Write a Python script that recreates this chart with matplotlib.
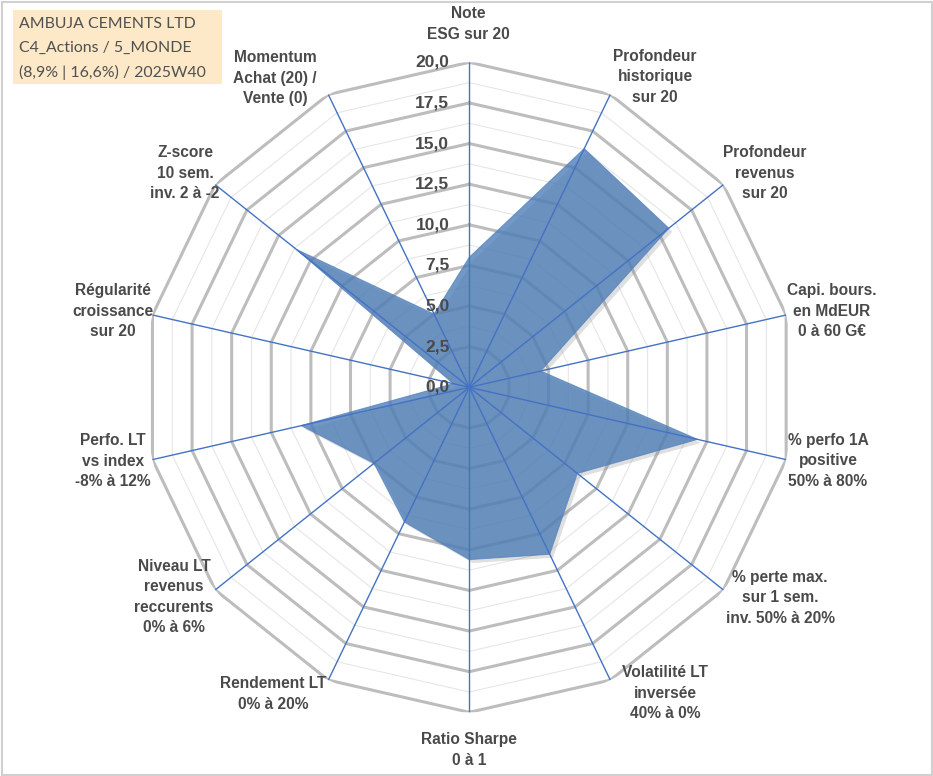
import numpy as np
import matplotlib
matplotlib.use("Agg")
import matplotlib.pyplot as plt
from matplotlib.patches import Rectangle
import matplotlib.transforms as mtransforms
import matplotlib.patheffects as pe

# ---------------- data ----------------
categories = [
    "Note\nESG sur 20",
    "Profondeur\nhistorique\nsur 20",
    "Profondeur\nrevenus\nsur 20",
    "Capi. bours.\nen MdEUR\n0 à 60 G€",
    "% perfo 1A\npositive\n50% à 80%",
    "% perte max.\nsur 1 sem.\ninv. 50% à 20%",
    "Volatilité LT\ninversée\n40% à 0%",
    "Ratio Sharpe\n0 à 1",
    "Rendement LT\n0% à 20%",
    "Niveau LT\nrevenus\nreccurents\n0% à 6%",
    "Perfo. LT\nvs index\n-8% à 12%",
    "Régularité\ncroissance\nsur 20",
    "Z-score\n10 sem.\ninv. 2 à -2",
    "Momentum\nAchat (20) /\nVente (0)",
]
values = [8.0, 16.3, 15.7, 4.5, 14.4, 8.5, 11.4, 10.6, 9.2, 7.5, 10.6, 1.0, 13.6, 5.0]
tick_values = [0.0, 2.5, 5.0, 7.5, 10.0, 12.5, 15.0, 17.5, 20.0]
tick_labels = ["0,0", "2,5", "5,0", "7,5", "10,0", "12,5", "15,0", "17,5", "20,0"]
title_lines = ["AMBUJA CEMENTS LTD", "C4_Actions / 5_MONDE", "(8,9% | 16,6%) / 2025W40"]

# label centres (pixels, layout only)
label_pos = [(468, 24), (655, 77), (765, 173), (832, 311), (828, 461), (780, 598),
             (665, 693), (469, 750), (273, 694), (174, 597), (113, 461), (113, 311),
             (185, 173), (275, 78)]

# ---------------- figure ----------------
W, H = 933, 776
fig = plt.figure(figsize=(W / 100, H / 100), dpi=100)
fig.patch.set_facecolor("white")

cx, cy, R = 469.3, 387.3, 325.0
ax = fig.add_axes([(cx - R) / W, (H - cy - R) / H, 2 * R / W, 2 * R / H], projection="polar")
ax.set_theta_offset(np.pi / 2)
ax.set_theta_direction(-1)
ax.set_ylim(0, 20)
ax.axis("off")

n = len(categories)
angles = np.arange(n) * 2 * np.pi / n
ang_c = np.append(angles, angles[0])

TXT = "#4A4A4A"

# minor rings
for v in np.arange(1.25, 20, 2.5):
    ax.plot(ang_c, [v] * (n + 1), color="#E6E6E6", lw=0.8, zorder=1)
# major rings
for v in tick_values[1:]:
    ax.plot(ang_c, [v] * (n + 1), color="#BDBDBD", lw=2.2, zorder=1.5,
            solid_joinstyle="miter")

# filled series
vals_c = np.append(values, values[0])
ax.fill(ang_c, vals_c, facecolor="#4E7EB8", alpha=0.8, lw=0.8, edgecolor="#5A86BE", zorder=3,
        path_effects=[pe.SimplePatchShadow(offset=(2.5, -2.5), shadow_rgbFace="#808080", alpha=0.25),
                      pe.Normal()])

# spokes
for a in angles:
    ax.plot([a, a], [0, 20], color="#4472C4", lw=1.0, zorder=4)

# value axis labels
off = mtransforms.offset_copy(ax.transData, fig=fig, x=-20, y=0, units="dots")
for v, t in zip(tick_values, tick_labels):
    ax.text(0, v, t, transform=off, ha="right", va="center", fontsize=12.5,
            fontweight="bold", color=TXT, family="Liberation Sans", zorder=5)

# category labels
for (x, y), lab in zip(label_pos, categories):
    fig.text(x / W, 1 - y / H, lab, ha="center", va="center", multialignment="center",
             fontsize=11.2, fontweight="bold", color=TXT, family="Liberation Sans",
             linespacing=1.45)

# title box
fig.patches.append(Rectangle((13 / W, 1 - 84 / H), (222 - 13) / W, (84 - 10) / H,
                             transform=fig.transFigure, facecolor="#FDE9C8", edgecolor="none"))
for i, line in enumerate(title_lines):
    fig.text(19 / W, 1 - (24 + i * 24) / H, line, ha="left", va="center", fontsize=11.4,
             color="#505050", family="Lato")

# outer frame
fig.patches.append(Rectangle((1.5 / W, 1.5 / H), (W - 3) / W, (H - 3) / H,
                             transform=fig.transFigure, facecolor="none", edgecolor="#D0D0D0", lw=1.5))

fig.savefig("out.png", dpi=100)
